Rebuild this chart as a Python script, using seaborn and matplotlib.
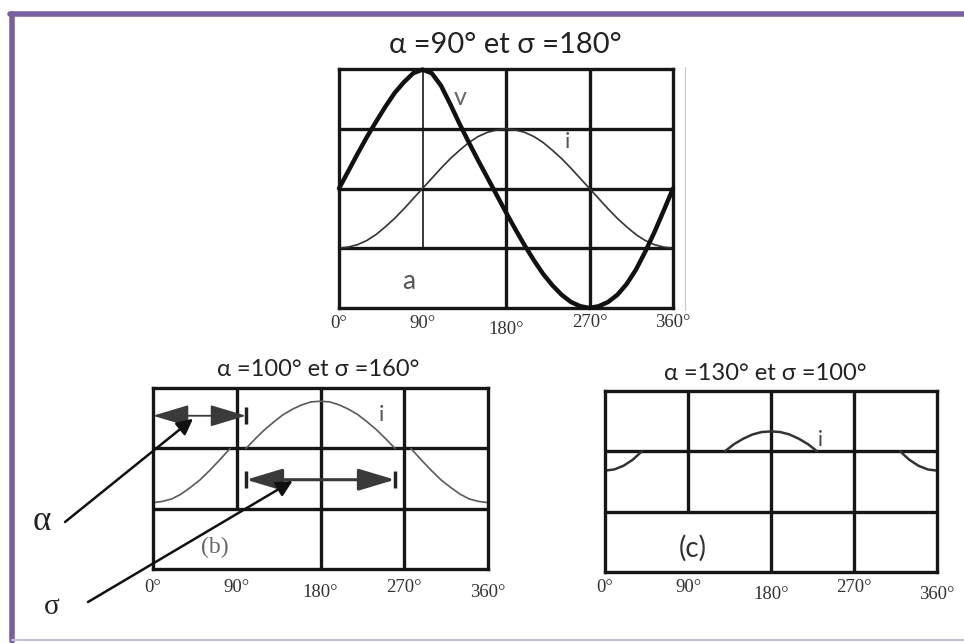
import matplotlib
matplotlib.use("Agg")
import matplotlib.pyplot as plt
from matplotlib.patches import ArrowStyle
from matplotlib.lines import Line2D
import seaborn as sns
import pandas as pd

# ---------------- data ----------------
tick_pos = [0, 90, 180, 270, 360]
tick_labels = ["0°", "90°", "180°", "270°", "360°"]

# panel (a)
alpha_a, sigma_a = 90, 180
angles_a = list(range(0, 361, 10))
v_a = [2.00, 2.29, 2.58, 2.86, 3.12, 3.37, 3.60, 3.78, 3.93, 3.99, 3.93, 3.72, 3.41,
       3.08, 2.77, 2.47, 2.18, 1.89, 1.60, 1.32, 1.05, 0.80, 0.57, 0.38, 0.22, 0.10,
       0.03, 0.00, 0.03, 0.10, 0.22, 0.40, 0.64, 0.94, 1.27, 1.63, 2.00]
i_a = [1.00, 1.02, 1.06, 1.13, 1.23, 1.36, 1.50, 1.66, 1.83, 2.00, 2.17, 2.34, 2.50,
       2.64, 2.77, 2.87, 2.94, 2.98, 3.00, 2.98, 2.94, 2.87, 2.77, 2.64, 2.50, 2.34,
       2.17, 2.00, 1.83, 1.66, 1.50, 1.36, 1.23, 1.13, 1.06, 1.02, 1.00]

# panel (b)
alpha_b, sigma_b = 100, 160
b_seg1_x = [0, 10, 20, 30, 40, 50, 60, 70, 80, 83]
b_seg1_y = [1.10, 1.12, 1.16, 1.24, 1.35, 1.47, 1.62, 1.78, 1.95, 2.00]
b_seg2_x = [100, 110, 120, 130, 140, 150, 160, 170, 180, 190, 200, 210, 220, 230, 240, 250, 260]
b_seg2_y = [2.00, 2.16, 2.31, 2.44, 2.56, 2.65, 2.72, 2.77, 2.78, 2.77, 2.72, 2.65, 2.56,
            2.44, 2.31, 2.16, 2.00]
b_seg3_x = [277, 280, 290, 300, 310, 320, 330, 340, 350, 360]
b_seg3_y = [2.00, 1.95, 1.78, 1.62, 1.47, 1.35, 1.24, 1.16, 1.12, 1.10]

# panel (c)
alpha_c, sigma_c = 130, 100
c_seg1_x = [0, 10, 20, 30, 40]
c_seg1_y = [1.68, 1.70, 1.76, 1.86, 2.00]
c_seg2_x = [130, 140, 150, 160, 170, 180, 190, 200, 210, 220, 230]
c_seg2_y = [2.00, 2.12, 2.21, 2.28, 2.32, 2.33, 2.32, 2.28, 2.21, 2.12, 2.00]
c_seg3_x = [320, 330, 340, 350, 360]
c_seg3_y = [2.00, 1.86, 1.76, 1.70, 1.68]

# ---------------- style ----------------
sns.set_style("white")
plt.rcParams["font.family"] = ["Lato", "DejaVu Sans"]
SERIF = ["Liberation Serif", "DejaVu Serif"]
GRID = "#161616"
GLW = 2.4
W, H = 964, 643

fig = plt.figure(figsize=(9.64, 6.43), dpi=100)
fig.patch.set_facecolor("white")


def px_axes(l, t, r, b):
    return fig.add_axes([l / W, 1 - b / H, (r - l) / W, (b - t) / H])


def frame(ax, nrows, pads, lw90=GLW):
    ax.set_xlim(0, 360)
    ax.set_ylim(0, nrows)
    ax.set_facecolor("white")
    for s in ax.spines.values():
        s.set_visible(True)
        s.set_color(GRID)
        s.set_linewidth(GLW)
    for lvl in range(1, nrows):
        ax.axhline(lvl, color=GRID, lw=GLW, zorder=1)
    ax.axvline(180, color=GRID, lw=GLW, zorder=1)
    ax.axvline(270, color=GRID, lw=GLW, zorder=1)
    ax.axvline(90, ymin=1 / nrows, ymax=1, color=GRID, lw=lw90, zorder=1)
    ax.set_yticks([])
    ax.set_ylabel("")
    ax.set_xlabel("")
    ax.set_xticks(tick_pos)
    ax.set_xticklabels(tick_labels, fontfamily=SERIF, fontsize=13.5, color="#333333")
    ax.tick_params(axis="x", length=0)
    for t, p in zip(ax.xaxis.get_major_ticks(), pads):
        t.set_pad(p)


def segs(xs_list, ys_list):
    rows = []
    for k, (xs, ys) in enumerate(zip(xs_list, ys_list)):
        for x, y in zip(xs, ys):
            rows.append({"angle": x, "val": y, "seg": k})
    return pd.DataFrame(rows)


# ---------------- panel (a) ----------------
axa = px_axes(339, 69, 673, 308)
df_a = pd.DataFrame({"angle": angles_a, "v": v_a, "i": i_a})
sns.lineplot(data=df_a, x="angle", y="i", ax=axa, color="#333333", lw=1.2, zorder=2)
sns.lineplot(data=df_a, x="angle", y="v", ax=axa, color="#111111", lw=3.2, zorder=3)
for ln in axa.lines:
    ln.set_clip_on(False)
    ln.set_solid_joinstyle("round")
frame(axa, 4, [5, 5, 9, 4, 4], lw90=1.2)
axa.text(131, 3.53, "v", fontsize=18, color="#666666", ha="center", va="center")
axa.text(246, 2.78, "i", fontsize=16, color="#555555", ha="center", va="center")
axa.text(75, 0.44, "a", fontsize=19, color="#555555", ha="center", va="center")
fig.text(505 / W, 1 - 45 / H, f"α ={alpha_a}° et σ ={sigma_a}°", fontsize=21,
         ha="center", va="center", color="#222222")

# ---------------- panel (b) ----------------
axb = px_axes(153, 388, 488, 569)
df_b = segs([b_seg1_x, b_seg2_x, b_seg3_x], [b_seg1_y, b_seg2_y, b_seg3_y])
sns.lineplot(data=df_b, x="angle", y="val", units="seg", estimator=None, ax=axb,
             color="#5a5a5a", lw=1.2, zorder=2)
frame(axb, 3, [7, 7, 11, 7, 11])
axb.text(246, 2.55, "i", fontsize=16, color="#555555", ha="center", va="center")
axb.text(66, 0.36, "(b)", fontsize=17, color="#666666", ha="center", va="center",
         fontfamily=SERIF)
fig.text(318 / W, 1 - 370 / H, f"α ={alpha_b}° et σ ={sigma_b}°", fontsize=17,
         ha="center", va="center", color="#222222")

head = ArrowStyle("<|-|>", head_length=1.5, head_width=0.45)
y_alpha, y_sigma = 2.54, 1.48
axb.annotate("", xy=(0, y_alpha), xytext=(alpha_b, y_alpha),
             arrowprops=dict(arrowstyle=head, mutation_scale=15, color="#3a3a3a", lw=1.3,
                             shrinkA=0, shrinkB=0), zorder=4)
axb.annotate("", xy=(alpha_b, y_sigma), xytext=(alpha_b + sigma_b, y_sigma),
             arrowprops=dict(arrowstyle=head, mutation_scale=15, color="#3a3a3a", lw=2.2,
                             shrinkA=0, shrinkB=0), zorder=4)
axb.vlines([alpha_b], y_alpha - 0.14, y_alpha + 0.14, color="#222222", lw=2.5, zorder=4)
axb.vlines([alpha_b, alpha_b + sigma_b], y_sigma - 0.14, y_sigma + 0.14,
           color="#222222", lw=2.5, zorder=4)

ptr = ArrowStyle("-|>", head_length=0.8, head_width=0.4)
axb.annotate("", xy=(43, y_alpha - 0.05), xycoords="data",
             xytext=(65, H - 522), textcoords="figure pixels", annotation_clip=False,
             arrowprops=dict(arrowstyle=ptr, mutation_scale=12, color="#111111", lw=1.8,
                             shrinkA=0, shrinkB=0), zorder=5)
axb.annotate("", xy=(150, y_sigma - 0.02), xycoords="data",
             xytext=(88, H - 602), textcoords="figure pixels", annotation_clip=False,
             arrowprops=dict(arrowstyle=ptr, mutation_scale=12, color="#111111", lw=1.8,
                             shrinkA=0, shrinkB=0), zorder=5)
fig.text(42 / W, 1 - 522 / H, "α", fontsize=25, fontfamily=SERIF, color="#222222",
         ha="center", va="center")
fig.text(52 / W, 1 - 607 / H, "σ", fontsize=21, fontfamily=SERIF, color="#222222",
         ha="center", va="center")

# ---------------- panel (c) ----------------
axc = px_axes(605, 391, 937, 572)
df_c = segs([c_seg1_x, c_seg2_x, c_seg3_x], [c_seg1_y, c_seg2_y, c_seg3_y])
sns.lineplot(data=df_c, x="angle", y="val", units="seg", estimator=None, ax=axc,
             color="#333333", lw=1.8, zorder=2)
frame(axc, 3, [5, 5, 10, 5, 10])
axc.text(233, 2.19, "i", fontsize=15, color="#444444", ha="center", va="center")
axc.text(95, 0.40, "(c)", fontsize=20, color="#333333", ha="center", va="center")
fig.text(765 / W, 1 - 373 / H, f"α ={alpha_c}° et σ ={sigma_c}°", fontsize=17,
         ha="center", va="center", color="#222222")

# ---------------- frame and faint scan line ----------------
PURPLE = "#7a60a0"
fig.add_artist(Line2D([12 / W, 12 / W], [1 - 14 / H, 1 - 641 / H], color=PURPLE, lw=4.0,
                      transform=fig.transFigure))
fig.add_artist(Line2D([10 / W, 1.0], [1 - 14 / H, 1 - 14 / H], color=PURPLE, lw=4.0,
                      transform=fig.transFigure))
fig.add_artist(Line2D([12 / W, 1.0], [1 - 640 / H, 1 - 640 / H], color="#c9bcd9", lw=1.5,
                      transform=fig.transFigure))
fig.add_artist(Line2D([685 / W, 685 / W], [1 - 67 / H, 1 - 310 / H], color="#c8c8c8", lw=0.8,
                      transform=fig.transFigure))

fig.savefig("out.png", dpi=100, facecolor="white")
